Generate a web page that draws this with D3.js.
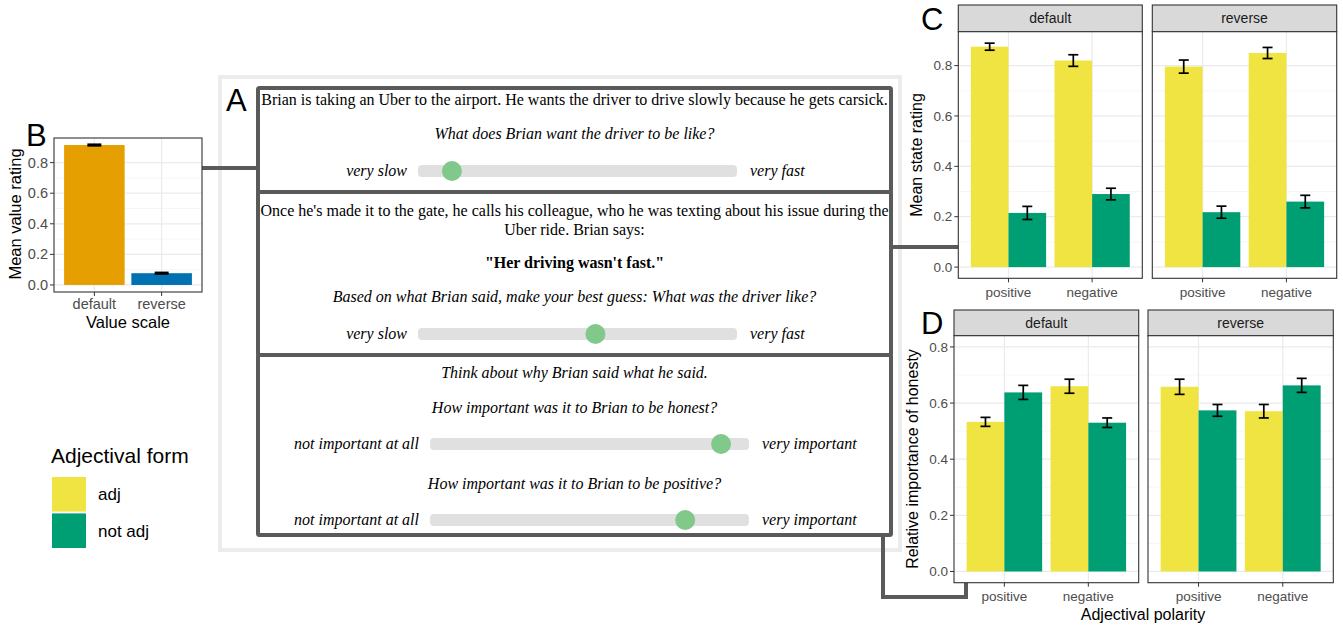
<!DOCTYPE html>
<html>
<head>
<script src="https://d3js.org/d3.v7.min.js"></script>
<style>
  body { margin: 0; background: #fff; }
  .tick-label { font-family: "Liberation Sans", Arial, sans-serif; font-size: 13.5px; fill: #4d4d4d; }
  .axis-title { font-family: "Liberation Sans", Arial, sans-serif; font-size: 16px; fill: #000; }
  .strip-label { font-family: "Liberation Sans", Arial, sans-serif; font-size: 14px; fill: #1a1a1a; }
  .panel-letter { font-family: "Liberation Sans", Arial, sans-serif; font-size: 31px; fill: #000; }
  .serif { font-family: "Liberation Serif", "Times New Roman", serif; font-size: 16px; fill: #000; }
  #panelB .tick-label { font-size: 14.5px; }
  #panelB .axis-title { font-size: 16.5px; }
</style>
</head>
<body>
<svg id="fig" width="1343" height="627"></svg>
<script>
const svg = d3.select("#fig");

// ---------- data ----------
const valueScales = ["default", "reverse"];
const valueMeans = [0.915, 0.077];
const valueErrs = [0.004, 0.004];
const valueColors = ["#E69F00", "#0072B2"];

const facets = ["default", "reverse"];
const polarities = ["positive", "negative"];
const forms = ["adj", "not adj"];
const formColors = ["#F0E442", "#009E73"];

// order: positive/adj, positive/not adj, negative/adj, negative/not adj
const stateDefaultMean = [0.875, 0.215, 0.820, 0.290];
const stateDefaultErr  = [0.014, 0.026, 0.023, 0.023];
const stateReverseMean = [0.796, 0.218, 0.850, 0.260];
const stateReverseErr  = [0.026, 0.024, 0.022, 0.025];

const honestDefaultMean = [0.533, 0.638, 0.660, 0.530];
const honestDefaultErr  = [0.016, 0.025, 0.025, 0.017];
const honestReverseMean = [0.658, 0.574, 0.571, 0.663];
const honestReverseErr  = [0.027, 0.021, 0.024, 0.025];

const yTicks = [0, 0.2, 0.4, 0.6, 0.8];
const yMinor = [0.1, 0.3, 0.5, 0.7];

// slider knob positions (0 = left end, 1 = right end)
const sliderValues = [0.08, 0.56, 0.94, 0.82];

const color = d3.scaleOrdinal().domain(forms).range(formColors);

function rows(means, errs) {
  return means.map((m, i) => ({ pol: polarities[Math.floor(i / 2)], form: forms[i % 2], mean: m, err: errs[i] }));
}

// draws grid, y ticks for one panel
function panelFrame(g, x0, x1, y, xCenters, showY) {
  const [top, bottom] = [y.range()[1], y.range()[0]];
  g.append("rect").attr("x", x0).attr("y", top).attr("width", x1 - x0).attr("height", bottom - top).attr("fill", "#fff");
  g.selectAll(null).data(yMinor).join("line")
    .attr("x1", x0).attr("x2", x1).attr("y1", d => y(d)).attr("y2", d => y(d))
    .attr("stroke", "#f2f2f2").attr("stroke-width", 0.7);
  g.selectAll(null).data(yTicks).join("line")
    .attr("x1", x0).attr("x2", x1).attr("y1", d => y(d)).attr("y2", d => y(d))
    .attr("stroke", "#ebebeb").attr("stroke-width", 1.2);
  g.selectAll(null).data(xCenters).join("line")
    .attr("x1", d => d).attr("x2", d => d).attr("y1", top).attr("y2", bottom)
    .attr("stroke", "#ebebeb").attr("stroke-width", 1.2);
  if (showY) {
    g.selectAll(null).data(yTicks).join("line")
      .attr("x1", x0 - 4).attr("x2", x0).attr("y1", d => y(d)).attr("y2", d => y(d))
      .attr("stroke", "#333").attr("stroke-width", 1);
    g.selectAll(null).data(yTicks).join("text")
      .attr("class", "tick-label")
      .attr("x", x0 - 6).attr("y", d => y(d)).attr("dy", "0.35em")
      .attr("text-anchor", "end")
      .text(d => d3.format(".1f")(d));
  }
}

function panelBorder(g, x0, x1, y, xCenters, labels, labelY) {
  const [top, bottom] = [y.range()[1], y.range()[0]];
  g.append("rect").attr("x", x0).attr("y", top).attr("width", x1 - x0).attr("height", bottom - top)
    .attr("fill", "none").attr("stroke", "#333").attr("stroke-width", 1.1);
  g.selectAll(null).data(xCenters).join("line")
    .attr("x1", d => d).attr("x2", d => d).attr("y1", bottom).attr("y2", bottom + 4)
    .attr("stroke", "#333").attr("stroke-width", 1);
  g.selectAll(null).data(labels).join("text")
    .attr("class", "tick-label")
    .attr("x", (d, i) => xCenters[i]).attr("y", labelY)
    .attr("text-anchor", "middle").text(d => d);
}

function facetChart(g, cfg) {
  cfg.facetX.forEach((fx, fi) => {
    const data = cfg.data[fi];
    const x = d3.scaleBand().domain(polarities).range(fx).paddingOuter(0.1).paddingInner(0);
    const xs = d3.scaleBand().domain(forms).range([0.05 * x.bandwidth(), 0.95 * x.bandwidth()]);
    const centers = polarities.map(p => x(p) + x.bandwidth() / 2);
    const y = cfg.y;
    const top = y.range()[1];

    // strip
    g.append("rect").attr("x", fx[0]).attr("y", cfg.stripTop).attr("width", fx[1] - fx[0]).attr("height", top - cfg.stripTop)
      .attr("fill", "#d9d9d9").attr("stroke", "#333").attr("stroke-width", 1.1);
    g.append("text").attr("class", "strip-label")
      .attr("x", (fx[0] + fx[1]) / 2).attr("y", (cfg.stripTop + top) / 2).attr("dy", "0.35em")
      .attr("text-anchor", "middle").text(facets[fi]);

    panelFrame(g, fx[0], fx[1], y, centers, fi === 0);

    g.selectAll(null).data(data).join("rect")
      .attr("x", d => x(d.pol) + xs(d.form))
      .attr("y", d => y(d.mean))
      .attr("width", xs.bandwidth())
      .attr("height", d => y(0) - y(d.mean))
      .attr("fill", d => color(d.form));

    const capW = 5;
    const eb = g.selectAll(null).data(data).join("g")
      .attr("transform", d => `translate(${x(d.pol) + xs(d.form) + xs.bandwidth() / 2},0)`);
    eb.append("line").attr("y1", d => y(d.mean - d.err)).attr("y2", d => y(d.mean + d.err))
      .attr("stroke", "#000").attr("stroke-width", 1.7);
    eb.append("line").attr("x1", -capW).attr("x2", capW).attr("y1", d => y(d.mean - d.err)).attr("y2", d => y(d.mean - d.err))
      .attr("stroke", "#000").attr("stroke-width", 1.7);
    eb.append("line").attr("x1", -capW).attr("x2", capW).attr("y1", d => y(d.mean + d.err)).attr("y2", d => y(d.mean + d.err))
      .attr("stroke", "#000").attr("stroke-width", 1.7);

    panelBorder(g, fx[0], fx[1], y, centers, polarities, cfg.labelY);
  });
}

// ---------- panel A outer frame ----------
svg.append("rect").attr("x", 220).attr("y", 77).attr("width", 680).attr("height", 473)
  .attr("fill", "none").attr("stroke", "#ececec").attr("stroke-width", 4);

// ---------- connectors ----------
const conn = svg.append("g");
const line = d3.line();
const connectors = [
  [[202, 168], [258, 168]],
  [[891, 247], [958, 247]],
  [[883, 535], [883, 597], [966, 597], [966, 583]]
];
conn.selectAll("path").data(connectors).join("path")
  .attr("d", line).attr("fill", "none").attr("stroke", "#5a5a5a").attr("stroke-width", 4);

// ---------- panel B ----------
const gB = svg.append("g").attr("id", "panelB");
const xB = d3.scaleBand().domain(valueScales).range([54, 202]).paddingOuter(0.1).paddingInner(0);
const yB = d3.scaleLinear().domain([-0.046, 0.961]).range([292, 138]);
const centersB = valueScales.map(v => xB(v) + xB.bandwidth() / 2);
panelFrame(gB, 54, 202, yB, centersB, true);
gB.selectAll(null).data(valueScales).join("rect")
  .attr("x", d => xB(d) + 0.05 * xB.bandwidth())
  .attr("width", 0.9 * xB.bandwidth())
  .attr("y", (d, i) => yB(valueMeans[i]))
  .attr("height", (d, i) => yB(0) - yB(valueMeans[i]))
  .attr("fill", (d, i) => valueColors[i]);
gB.selectAll(null).data(valueScales).join("rect")
  .attr("x", d => xB(d) + xB.bandwidth() / 2 - 7)
  .attr("width", 14)
  .attr("y", (d, i) => yB(valueMeans[i] + valueErrs[i]) - 1)
  .attr("height", (d, i) => yB(valueMeans[i] - valueErrs[i]) - yB(valueMeans[i] + valueErrs[i]) + 2)
  .attr("fill", "#000");
panelBorder(gB, 54, 202, yB, centersB, valueScales, 309);
gB.append("text").attr("class", "axis-title").attr("x", 128).attr("y", 328).attr("text-anchor", "middle").text("Value scale");
gB.append("text").attr("class", "axis-title").attr("transform", "translate(21,214) rotate(-90)")
  .attr("text-anchor", "middle").text("Mean value rating");
gB.append("text").attr("class", "panel-letter").attr("x", 26).attr("y", 146).text("B");

// ---------- panel C ----------
const gC = svg.append("g");
facetChart(gC, {
  facetX: [[958.3, 1142.3], [1152.3, 1336.7]],
  stripTop: 5,
  y: d3.scaleLinear().domain([-0.0445, 0.9345]).range([278.3, 31.7]),
  data: [rows(stateDefaultMean, stateDefaultErr), rows(stateReverseMean, stateReverseErr)],
  labelY: 297
});
gC.append("text").attr("class", "axis-title").attr("transform", "translate(922,155) rotate(-90)")
  .attr("text-anchor", "middle").text("Mean state rating");
gC.append("text").attr("class", "panel-letter").attr("x", 921).attr("y", 30).text("C");

// ---------- panel D ----------
const gD = svg.append("g");
facetChart(gD, {
  facetX: [[954, 1138.7], [1148, 1333.3]],
  stripTop: 310,
  y: d3.scaleLinear().domain([-0.04, 0.84]).range([582.7, 335.7]),
  data: [rows(honestDefaultMean, honestDefaultErr), rows(honestReverseMean, honestReverseErr)],
  labelY: 601
});
gD.append("text").attr("class", "axis-title").attr("transform", "translate(918,459) rotate(-90)")
  .attr("text-anchor", "middle").text("Relative importance of honesty");
gD.append("text").attr("class", "axis-title").attr("x", 1143).attr("y", 620).attr("text-anchor", "middle").text("Adjectival polarity");
gD.append("text").attr("class", "panel-letter").attr("x", 921).attr("y", 334).text("D");

// ---------- legend ----------
const gL = svg.append("g");
gL.append("text").attr("x", 51).attr("y", 463)
  .style("font-family", "Liberation Sans, Arial, sans-serif").style("font-size", "21px").text("Adjectival form");
const legY = d3.scaleBand().domain(forms).range([477, 548]).paddingInner(0.05);
gL.selectAll(null).data(forms).join("rect")
  .attr("x", 52).attr("y", d => legY(d)).attr("width", 34).attr("height", legY.bandwidth())
  .attr("fill", d => color(d));
gL.selectAll(null).data(forms).join("text")
  .attr("x", 98).attr("y", d => legY(d) + legY.bandwidth() / 2).attr("dy", "0.35em")
  .style("font-family", "Liberation Sans, Arial, sans-serif").style("font-size", "17px").text(d => d);

// ---------- panel A (experiment screen) ----------
const gA = svg.append("g");
const boxes = [[88, 192], [192, 355], [355, 535]];
gA.selectAll(null).data(boxes).join("rect")
  .attr("x", 258).attr("y", d => d[0]).attr("width", 633).attr("height", d => d[1] - d[0])
  .attr("fill", "#fff").attr("stroke", "#5a5a5a").attr("stroke-width", 4).attr("rx", 1.5);
gA.append("text").attr("class", "panel-letter").attr("x", 226).attr("y", 111).text("A");

const cx = 574.5;
const texts = [
  { t: "Brian is taking an Uber to the airport. He wants the driver to drive slowly because he gets carsick.", y: 105, s: "normal", w: "normal" },
  { t: "What does Brian want the driver to be like?", y: 139, s: "italic", w: "normal" },
  { t: "Once he's made it to the gate, he calls his colleague, who he was texting about his issue during the", y: 216, s: "normal", w: "normal" },
  { t: "Uber ride. Brian says:", y: 235, s: "normal", w: "normal" },
  { t: "\"Her driving wasn't fast.\"", y: 268, s: "normal", w: "bold" },
  { t: "Based on what Brian said, make your best guess: What was the driver like?", y: 302, s: "italic", w: "normal" },
  { t: "Think about why Brian said what he said.", y: 378, s: "italic", w: "normal" },
  { t: "How important was it to Brian to be honest?", y: 413, s: "italic", w: "normal" },
  { t: "How important was it to Brian to be positive?", y: 489, s: "italic", w: "normal" }
];
gA.selectAll(null).data(texts).join("text")
  .attr("class", "serif").attr("x", cx).attr("y", d => d.y).attr("text-anchor", "middle")
  .style("font-style", d => d.s).style("font-weight", d => d.w).text(d => d.t);

const sliders = [
  { y: 171, x0: 418, x1: 737, left: "very slow", right: "very fast" },
  { y: 334, x0: 418, x1: 737, left: "very slow", right: "very fast" },
  { y: 444, x0: 430, x1: 749, left: "not important at all", right: "very important" },
  { y: 520, x0: 430, x1: 749, left: "not important at all", right: "very important" }
];
sliders.forEach((s, i) => {
  const sx = d3.scaleLinear().domain([0, 1]).range([s.x0 + 10, s.x1 - 10]);
  gA.append("rect").attr("x", s.x0).attr("y", s.y - 6).attr("width", s.x1 - s.x0).attr("height", 12)
    .attr("rx", 4).attr("fill", "#e0e0e0");
  gA.append("circle").attr("cx", sx(sliderValues[i])).attr("cy", s.y).attr("r", 10).attr("fill", "#80c98a");
  gA.append("text").attr("class", "serif").attr("x", s.x0 - 11).attr("y", s.y + 5).attr("text-anchor", "end")
    .style("font-style", "italic").text(s.left);
  gA.append("text").attr("class", "serif").attr("x", s.x1 + 13).attr("y", s.y + 5)
    .style("font-style", "italic").text(s.right);
});
</script>
</body>
</html>
